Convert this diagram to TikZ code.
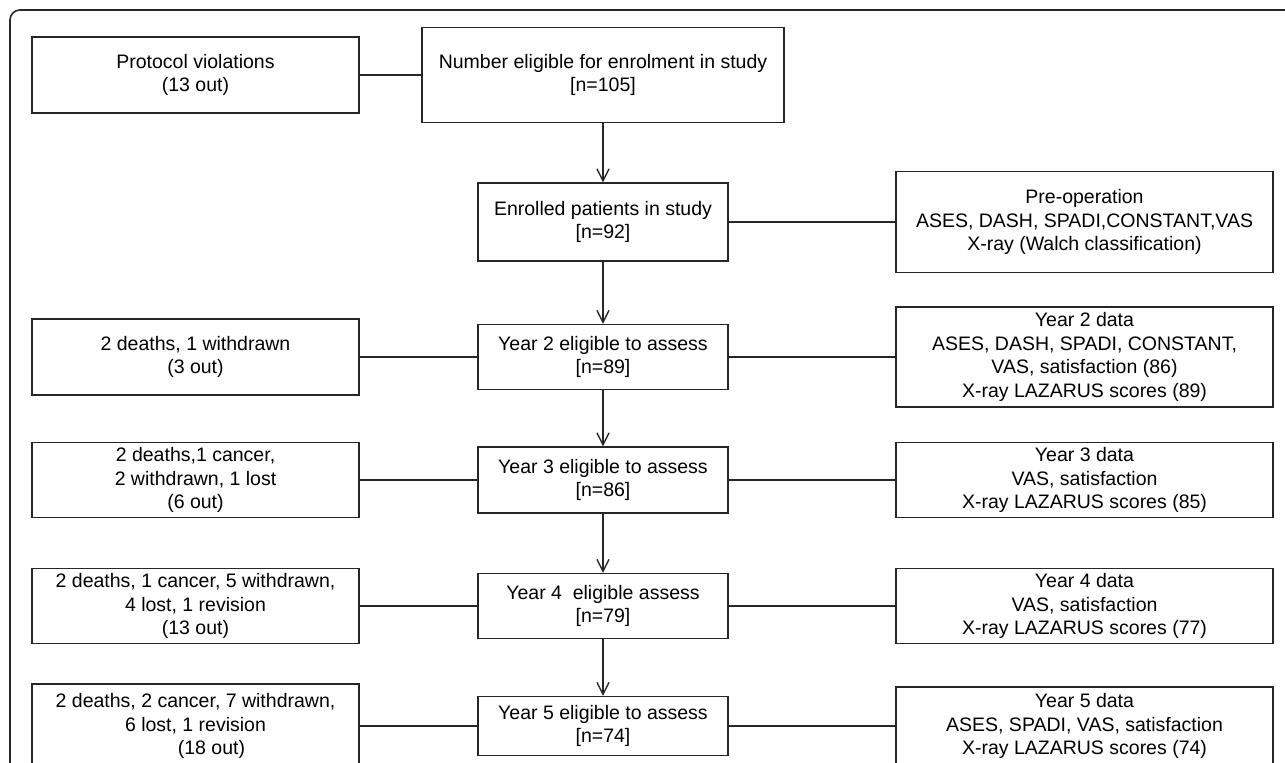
\documentclass[tikz,border=0pt]{standalone}
\usepackage{fontspec}
\setmainfont{Liberation Sans}
\usetikzlibrary{arrows.meta,positioning}

\begin{document}
\begin{tikzpicture}[x=0.5pt,y=-0.5pt,
  every node/.style={font=\fontsize{9.75}{11.75}\selectfont},
  box/.style={draw=black!85,line width=0.7pt,align=center,inner sep=0pt,minimum height=#1},
  outbox/.style={box=#1,minimum width=163.5pt},
  stagebox/.style={box=#1,minimum width=125pt},
  databox/.style={box=#1,minimum width=188.5pt},
  link/.style={draw=black!85,line width=0.65pt},
  arr/.style={link,-{Straight Barb[length=6pt,width=6pt]}}]
\useasboundingbox (0,0) rectangle (1285,762);
\clip (0,0) rectangle (1285,762);
\draw[draw=black!85,line width=0.8pt,rounded corners=5pt] (10,10) rectangle (1320,800);

\node[outbox=38pt] (viol) at (195.5,75) {Protocol violations\\(13 out)};
\node[box=47.5pt,minimum width=181pt] (elig) at (603,75) {Number eligible for enrolment in study\\{}[n=105]};
\node[stagebox=39pt] (enrol) at (603,222) {Enrolled patients in study\\{}[n=92]};
\node[databox=50.5pt] (preop) at (1084.5,222) {Pre-operation\\ASES, DASH, SPADI,CONSTANT,VAS\\X-ray (Walch classification)};

\node[outbox=38pt] (y2out) at (195.5,357) {2 deaths, 1 withdrawn\\(3 out)};
\node[stagebox=32.5pt] (y2) at (603,357) {Year 2 eligible to assess\\{}[n=89]};
\node[databox=50pt] (y2data) at (1084.5,357) {Year 2 data\\ASES, DASH, SPADI, CONSTANT,\\VAS, satisfaction (86)\\X-ray LAZARUS scores (89)};

\node[outbox=37.5pt] (y3out) at (195.5,480) {2 deaths,1 cancer,\\2 withdrawn, 1 lost\\(6 out)};
\node[stagebox=33pt] (y3) at (603,480) {Year 3 eligible to assess\\{}[n=86]};
\node[databox=37.5pt] (y3data) at (1084.5,480) {Year 3 data\\VAS, satisfaction\\X-ray LAZARUS scores (85)};

\node[outbox=37.5pt] (y4out) at (195.5,606) {2 deaths, 1 cancer, 5 withdrawn,\\4 lost, 1 revision\\(13 out)};
\node[stagebox=32.5pt] (y4) at (603,606) {Year 4~ eligible assess\\{}[n=79]};
\node[databox=37.5pt] (y4data) at (1084.5,606) {Year 4 data\\VAS, satisfaction\\X-ray LAZARUS scores (77)};

\node[outbox=42pt] (y5out) at (195.5,726) {2 deaths, 2 cancer, 7 withdrawn,\\6 lost, 1 revision\\\hspace*{16pt}(18 out)};
\node[stagebox=29.5pt] (y5) at (603,726) {Year 5 eligible to assess\\{}[n=74]};
\node[databox=39pt] (y5data) at (1084.5,726) {Year 5 data\\ASES, SPADI, VAS, satisfaction\\X-ray LAZARUS scores (74)};

\foreach \a/\b in {viol/elig,enrol/preop,y2out/y2,y2/y2data,y3out/y3,y3/y3data,y4out/y4,y4/y4data,y5out/y5,y5/y5data}
  \draw[link] (\a) -- (\b);
\foreach \a/\b in {elig/enrol,enrol/y2,y2/y3,y3/y4,y4/y5}
  \draw[arr] (\a) -- (\b);
\end{tikzpicture}
\end{document}
